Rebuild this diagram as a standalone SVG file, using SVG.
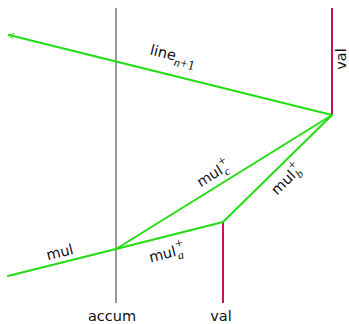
<svg xmlns="http://www.w3.org/2000/svg" width="349" height="324" viewBox="0 0 349 324">
<style>
.g{stroke:#22dd11;stroke-width:2;fill:none;stroke-linecap:round}
.t{font-family:"DejaVu Sans",sans-serif;font-size:14.5px;fill:#111}
.s{font-family:"Liberation Serif",serif;font-style:italic;font-size:12px}
.p{font-family:"Liberation Serif",serif;font-size:14px}
</style>
<defs>
<marker id="ah" viewBox="0 0 10 10" refX="8" refY="5" markerWidth="7" markerHeight="7" orient="auto-start-reverse" markerUnits="userSpaceOnUse">
<path d="M1,1 Q5,4 9,5 Q5,6 1,9" fill="none" stroke="#22dd11" stroke-width="1.3"/>
</marker>
</defs>
<g id="accum">
<line x1="116" y1="8" x2="116" y2="303" stroke="#999" stroke-width="2"/>
<text class="t" x="112" y="321" text-anchor="middle">accum</text>
</g>
<g id="val1">
<line x1="223" y1="222" x2="223" y2="303" stroke="#cc1155" stroke-width="2"/>
<text class="t" x="221" y="321" text-anchor="middle">val</text>
</g>
<g id="val2">
<line x1="332" y1="8" x2="332" y2="115" stroke="#cc1155" stroke-width="2"/>
<text class="t" transform="translate(346,59) rotate(-90)" text-anchor="middle">val</text>
</g>
<g id="connectors">
<line class="g" x1="8" y1="276" x2="116" y2="249"/>
<line class="g" x1="116" y1="249" x2="223" y2="222"/>
<line class="g" x1="223" y1="222" x2="332" y2="115"/>
<line class="g" x1="116" y1="249" x2="332" y2="115"/>
<line class="g" x1="332" y1="115" x2="9" y2="35" marker-end="url(#ah)"/>
</g>
<g id="labels">
<text class="t" transform="translate(61,257) rotate(-14)" text-anchor="middle">mul</text>
<text class="t" transform="translate(168,258) rotate(-14)" text-anchor="middle">mul<tspan class="p" dy="-7" dx="1">+</tspan><tspan class="s" dy="11" dx="-8">a</tspan></text>
<text class="t" transform="translate(216,178) rotate(-32)" text-anchor="middle">mul<tspan class="p" dy="-7" dx="1">+</tspan><tspan class="s" dy="11" dx="-8">c</tspan></text>
<text class="t" transform="translate(290,183) rotate(-44.5)" text-anchor="middle">mul<tspan class="p" dy="-7" dx="1">+</tspan><tspan class="s" dy="11" dx="-8">b</tspan></text>
<text class="t" transform="translate(172,60) rotate(14)" text-anchor="middle">line<tspan class="s" dy="5">n</tspan><tspan class="p" dy="0" font-size="12px">+1</tspan></text>
</g>
</svg>
